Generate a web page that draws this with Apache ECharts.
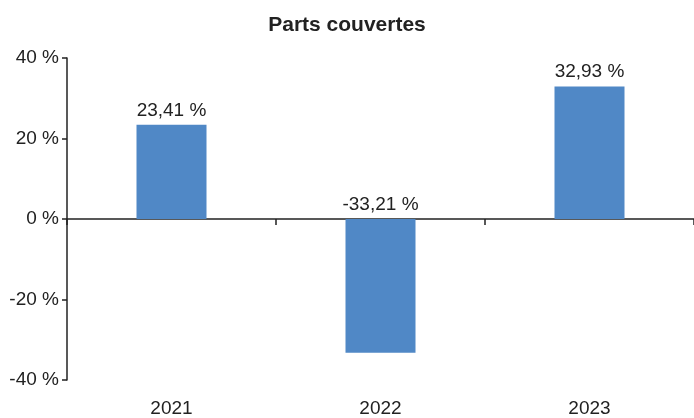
<!DOCTYPE html>
<html><head><meta charset="utf-8">
<script src="https://cdn.jsdelivr.net/npm/echarts@6/dist/echarts.min.js"></script>
<style>html,body{margin:0;padding:0;background:#fff}#c{width:694px;height:418px}</style>
</head><body><div id="c"></div>
<script>
const categories = ['2021', '2022', '2023'];
const values = [23.41, -33.21, 32.93];
const yTicks = [-40, -20, 0, 20, 40];
const title = 'Parts couvertes';

const fmt = v => String(v.toFixed(2)).replace('.', ',') + ' %';
const font = "'Liberation Sans', Arial, sans-serif";
const chart = echarts.init(document.getElementById('c'));
chart.setOption({
  animation: false,
  title: { text: title, left: 'center', top: 10, textStyle: { fontFamily: "'Liberation Sans Narrow', 'Arial Narrow', 'Liberation Sans', sans-serif", fontWeight: 'bold', fontSize: 21, color: '#222' } },
  grid: { left: 67, right: 0, top: 58, bottom: 37 },
  xAxis: [
    { type: 'category', data: categories, axisLine: { onZero: true, lineStyle: { color: '#222', width: 1.5 } },
      axisTick: { show: true, length: 6, lineStyle: { color: '#222', width: 1.5 } }, axisLabel: { show: false } },
    { type: 'category', data: categories, position: 'bottom', axisLine: { show: false, onZero: false }, axisTick: { show: false },
      axisLabel: { show: true, margin: 19, fontSize: 19, fontFamily: font, color: '#222' } }
  ],
  yAxis: { type: 'value', min: yTicks[0], max: yTicks[yTicks.length - 1], interval: 20, splitLine: { show: false },
    axisLine: { show: true, lineStyle: { color: '#222', width: 1.5 } },
    axisTick: { show: true, length: 5, lineStyle: { color: '#222', width: 1.5 } },
    axisLabel: { margin: 8, fontSize: 19, fontFamily: font, color: '#222', formatter: v => v + ' %' } },
  series: [{ type: 'bar', data: values, barWidth: 70, xAxisIndex: 0, itemStyle: { color: '#5088C6' },
    label: { show: true, position: 'top', distance: 5, fontSize: 19, fontFamily: font, color: '#222', formatter: p => fmt(p.value) } }]
});
</script></body></html>
